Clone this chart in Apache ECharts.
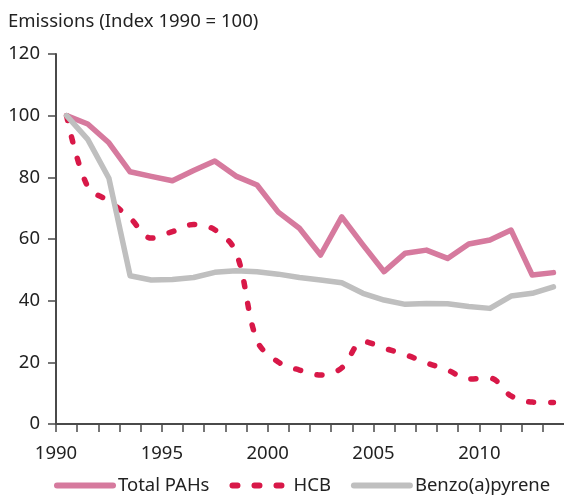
<!DOCTYPE html>
<html>
<head>
<meta charset="utf-8">
<script src="https://cdn.jsdelivr.net/npm/echarts@6/dist/echarts.min.js"></script>
<style>
  html, body { margin: 0; padding: 0; background: #ffffff; }
  #chart { width: 564px; height: 497px; }
</style>
</head>
<body>
<div id="chart"></div>
<script>
// Emission indices, 1990 = 100
const years = [1990, 1991, 1992, 1993, 1994, 1995, 1996, 1997, 1998, 1999, 2000, 2001,
               2002, 2003, 2004, 2005, 2006, 2007, 2008, 2009, 2010, 2011, 2012, 2013];
const totalPAHs = [100, 97.3, 91.2, 81.8, 80.3, 78.9, 82.2, 85.3, 80.4, 77.5, 68.7, 63.5,
                   54.8, 67.2, 58.1, 49.4, 55.4, 56.4, 53.7, 58.4, 59.7, 62.9, 48.3, 49.1];
const hcb = [100, 76.9, 72.3, 66.8, 60.3, 62.4, 64.7, 63.0, 55.8, 27.0, 20.1, 17.5,
             15.9, 18.2, 26.8, 24.6, 22.5, 19.8, 17.5, 14.6, 14.9, 9.1, 7.1, 7.0];
const benzo = [100, 92.3, 79.7, 48.1, 46.7, 46.9, 47.5, 49.2, 49.7, 49.4, 48.6, 47.5,
               46.7, 45.8, 42.4, 40.2, 38.8, 39.1, 39.0, 38.1, 37.5, 41.5, 42.4, 44.5];
const seriesNames = ['Total PAHs', 'HCB', 'Benzo(a)pyrene'];
const yTicks = [0, 20, 40, 60, 80, 100, 120];
const xLabelYears = [1990, 1995, 2000, 2005, 2010];

// each annual value sits in the middle of its year band
const pairs = vals => vals.map((v, i) => [years[i] + 0.5, v]);

const FONT = '"Noto Sans", "Open Sans", sans-serif';
const FS = 18.5;
const TEXT = '#222222';
const AXIS = '#4a4a4a';

const chart = echarts.init(document.getElementById('chart'), null, { renderer: 'canvas' });
chart.setOption({
  animation: false,
  backgroundColor: '#ffffff',
  title: {
    text: 'Emissions (Index 1990 = 100)',
    left: 3,
    top: 7,
    textStyle: { fontFamily: FONT, fontSize: FS, fontWeight: 'normal', color: TEXT }
  },
  grid: { left: 56, top: 54, bottom: 73, right: -5 },
  xAxis: {
    type: 'value',
    min: years[0],
    max: years[years.length - 1] + 1,
    interval: 1,
    splitLine: { show: false },
    axisLine: { show: true, lineStyle: { color: AXIS, width: 2 } },
    axisTick: { show: true, length: 8, lineStyle: { color: AXIS, width: 1.5 } },
    axisLabel: {
      fontFamily: FONT, fontSize: FS, color: TEXT, margin: 20,
      showMaxLabel: false,
      formatter: v => (xLabelYears.indexOf(v) >= 0 ? String(v) : '')
    }
  },
  yAxis: {
    type: 'value',
    min: yTicks[0],
    max: yTicks[yTicks.length - 1],
    interval: 20,
    splitLine: { show: false },
    axisLine: { show: true, lineStyle: { color: AXIS, width: 2 } },
    axisTick: { show: true, length: 8, lineStyle: { color: AXIS, width: 1.5 } },
    axisLabel: { fontFamily: FONT, fontSize: FS, color: TEXT, margin: 16 }
  },
  legend: {
    data: seriesNames,
    bottom: -3,
    left: 49,
    itemWidth: 56,
    itemHeight: 14,
    itemGap: 20,
    textStyle: { fontFamily: FONT, fontSize: FS, color: TEXT },
    itemStyle: { opacity: 0 },
    lineStyle: { width: 6 }
  },
  series: [
    {
      name: seriesNames[0], type: 'line', data: pairs(totalPAHs),
      symbol: 'none', z: 2,
      lineStyle: { color: '#d67a9e', width: 5.5, join: 'round', cap: 'round' },
      itemStyle: { color: '#d67a9e' }
    },
    {
      name: seriesNames[1], type: 'line', data: pairs(hcb),
      symbol: 'none', smooth: 0.35, z: 3,
      lineStyle: { color: '#d81848', width: 5.5, type: [5, 17], cap: 'round', join: 'round' },
      itemStyle: { color: '#d81848' }
    },
    {
      name: seriesNames[2], type: 'line', data: pairs(benzo),
      symbol: 'none', z: 4,
      lineStyle: { color: '#bfbfbf', width: 5.5, join: 'round', cap: 'round' },
      itemStyle: { color: '#bfbfbf' }
    }
  ]
});
</script>
</body>
</html>
